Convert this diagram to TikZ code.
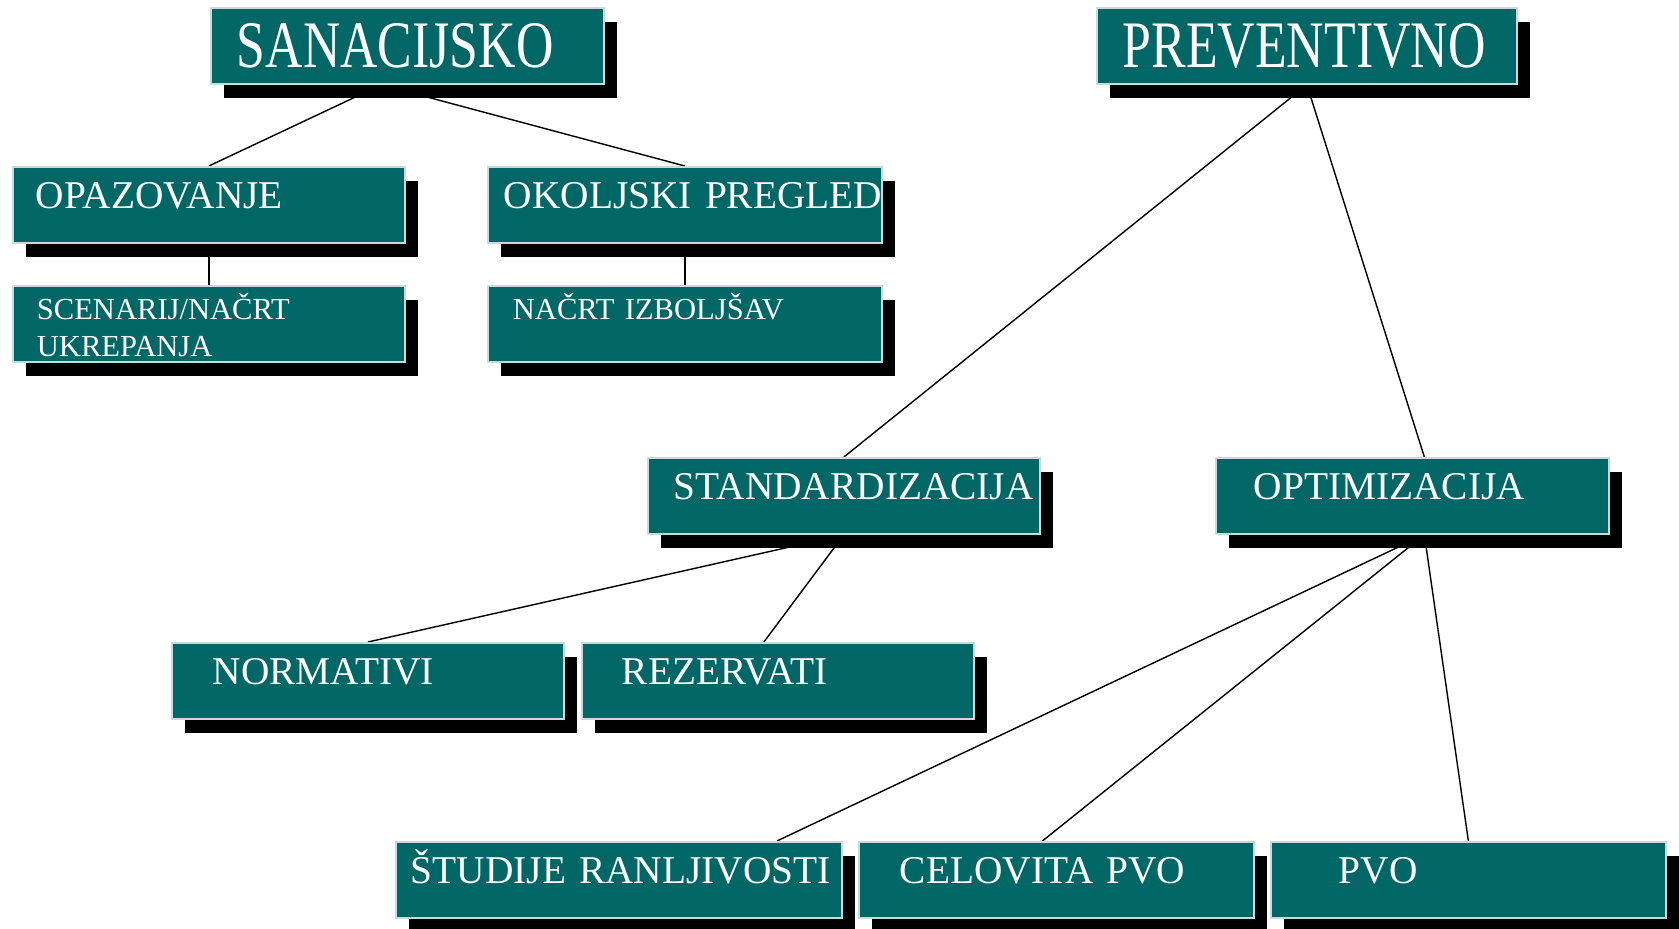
\documentclass[tikz,border=0pt]{standalone}
\usepackage{fontspec}
\setmainfont{Liberation Serif}
\newfontfamily\titlefont[FakeStretch=0.78]{Liberation Serif}
\usetikzlibrary{shadows,backgrounds}
\definecolor{boxfill}{RGB}{0,102,102}
\definecolor{boxedge}{RGB}{200,218,218}
\tikzset{
  box/.style={anchor=north west, fill=boxfill, draw=boxedge, line width=0.5pt,
    inner sep=0pt, align=left, text=white, minimum height=0.76cm,
    drop shadow={shadow xshift=0.13cm, shadow yshift=-0.14cm, opacity=1, fill=black}},
  lvla/.style={box, font=\titlefont\fontsize{18.9}{22}\selectfont, text height=0.60cm, text depth=0.16cm},
  lvlb/.style={box, font=\fontsize{11.2}{13.4}\selectfont, text height=0.42cm, text depth=0.34cm},
  lvlc/.style={box, font=\fontsize{8.7}{10.45}\selectfont, text height=0.335cm, text depth=0.425cm}
}
\begin{document}
\begin{tikzpicture}
      \useasboundingbox (0,0) rectangle (16.79,-9.29);
      \path
        (2.10,-0.07) node[lvla, text width=3.93cm] (san) {\hspace*{0.26cm}SANACIJSKO}
        (10.96,-0.07) node[lvla, text width=4.20cm] (prev) {\hspace*{0.26cm}PREVENTIVNO}
        (0.12,-1.66) node[lvlb, text width=3.92cm] (opaz) {\hspace*{0.23cm}OPAZOVANJE}
        (4.87,-1.66) node[lvlb, text width=3.94cm] (okol) {\hspace*{0.16cm}\mbox{OKOLJSKI PREGLED}}
        (0.12,-2.85) node[lvlc, text width=3.92cm] (scen) {\hspace*{0.24cm}SCENARIJ/NAČRT\\\hspace*{0.24cm}UKREPANJA}
        (4.87,-2.85) node[lvlc, text width=3.94cm] (nacrt) {\hspace*{0.25cm}\mbox{NAČRT IZBOLJŠAV}}
        (6.47,-4.57) node[lvlb, text width=3.92cm] (stand) {\hspace*{0.26cm}STANDARDIZACIJA}
        (12.15,-4.57) node[lvlb, text width=3.93cm] (opt) {\hspace*{0.38cm}OPTIMIZACIJA}
        (1.71,-6.42) node[lvlb, text width=3.92cm] (norm) {\hspace*{0.41cm}NORMATIVI}
        (5.81,-6.42) node[lvlb, text width=3.92cm] (rez) {\hspace*{0.40cm}REZERVATI}
        (3.95,-8.41) node[lvlb, text width=4.46cm] (stud) {\hspace*{0.15cm}\mbox{ŠTUDIJE RANLJIVOSTI}}
        (8.58,-8.41) node[lvlb, text width=3.95cm] (celo) {\hspace*{0.41cm}\mbox{CELOVITA PVO}}
        (12.70,-8.41) node[lvlb, text width=3.95cm] (pvo) {\hspace*{0.68cm}PVO};
      \begin{scope}[on background layer, line width=1pt]
        \draw ([xshift=-0.26cm]san.south) to (opaz.north);
        \draw ([xshift=-0.26cm]san.south) to (okol.north);
        \draw (opaz.south) to (scen.north);
        \draw (okol.south) to (nacrt.north);
        \draw (prev.south) to (stand.north);
        \draw (prev.south) to ([xshift=0.12cm]opt.north);
        \draw (stand.south) to (norm.north);
        \draw (stand.south) to ([xshift=-0.14cm]rez.north);
        \draw ([xshift=0.12cm]opt.south) to ([xshift=1.58cm]stud.north);
        \draw ([xshift=0.12cm]opt.south) to ([xshift=-0.14cm]celo.north);
        \draw ([xshift=0.12cm]opt.south) to (pvo.north);
      \end{scope}
    \end{tikzpicture}
\end{document}
